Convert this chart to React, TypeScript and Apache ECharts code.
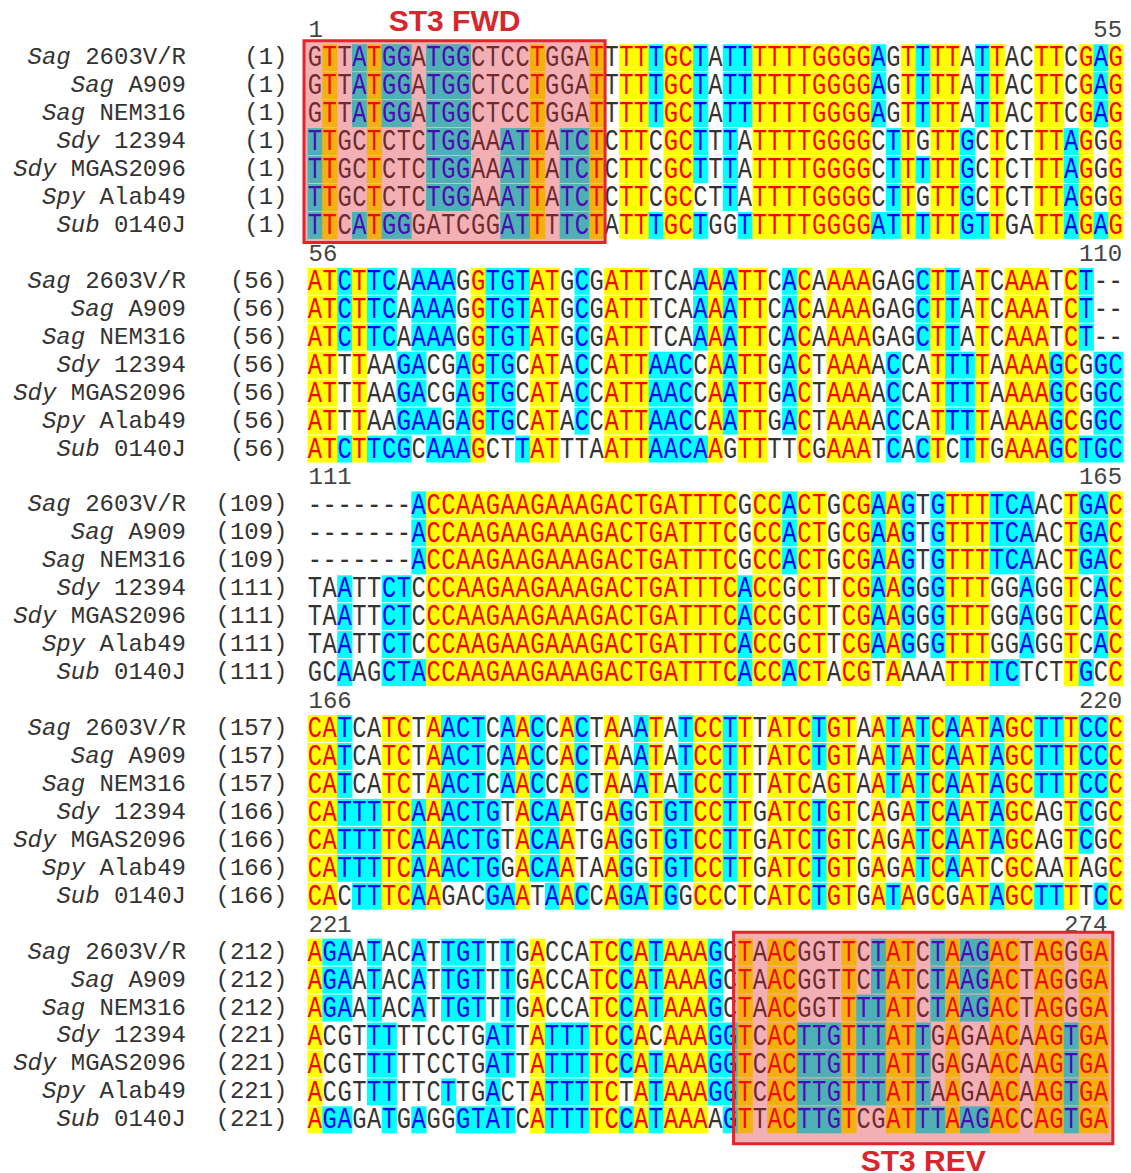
import React, { useEffect, useRef } from 'react';
import * as echarts from 'echarts';

// ---- data ----
const GENUS = ['Sag', 'Sag', 'Sag', 'Sdy', 'Sdy', 'Spy', 'Sub'];
const STRAIN = ['2603V/R', 'A909', 'NEM316', '12394', 'MGAS2096', 'Alab49', '0140J'];

const BLOCK_FIRST = [1, 56, 111, 166, 221];
const BLOCK_LAST = [55, 110, 165, 220, 274];

const ROW_START = [
  [1, 1, 1, 1, 1, 1, 1],
  [56, 56, 56, 56, 56, 56, 56],
  [109, 109, 109, 111, 111, 111, 111],
  [157, 157, 157, 166, 166, 166, 166],
  [212, 212, 212, 221, 221, 221, 221],
];

const BLOCK1 = [
  'GTTATGGATGGCTCCTGGATTTTTGCTATTTTTTGGGGAGTTTTATTACTTCGAG',
  'GTTATGGATGGCTCCTGGATTTTTGCTATTTTTTGGGGAGTTTTATTACTTCGAG',
  'GTTATGGATGGCTCCTGGATTTTTGCTATTTTTTGGGGAGTTTTATTACTTCGAG',
  'TTGCTCTCTGGAAATTATCTCTTCGCTTTATTTTGGGGCTTGTTGCTCTTTAGGG',
  'TTGCTCTCTGGAAATTATCTCTTCGCTTTATTTTGGGGCTTTTTGCTCTTTAGGG',
  'TTGCTCTCTGGAAATTATCTCTTCGCCTTATTTTGGGGCTTGTTGCTCTTTAGGG',
  'TTCATGGGATCGGATTTTCTATTTGCTGGTTTTTGGGGATTTTTGTTGATTAGAG',
];
const BLOCK2 = [
  'ATCTTCAAAAGGTGTATGCGATTTCAAAATTCACAAAAGAGCTTATCAAATCT--',
  'ATCTTCAAAAGGTGTATGCGATTTCAAAATTCACAAAAGAGCTTATCAAATCT--',
  'ATCTTCAAAAGGTGTATGCGATTTCAAAATTCACAAAAGAGCTTATCAAATCT--',
  'ATTTAAGACGAGTGCATACCATTAACCAATTGACTAAAACCATTTTAAAAGCGGC',
  'ATTTAAGACGAGTGCATACCATTAACCAATTGACTAAAACCATTTTAAAAGCGGC',
  'ATTTAAGAAGAGTGCATACCATTAACCAATTGACTAAAACCATTTTAAAAGCGGC',
  'ATCTTCGCAAAGCTTATTTAATTAACAAGTTTTCGAAATCACTCTTGAAAGCTGC',
];
const BLOCK3 = [
  '-------ACCAAGAAGAAAGACTGATTTCGCCACTGCGAAGTGTTTTCAACTGAC',
  '-------ACCAAGAAGAAAGACTGATTTCGCCACTGCGAAGTGTTTTCAACTGAC',
  '-------ACCAAGAAGAAAGACTGATTTCGCCACTGCGAAGTGTTTTCAACTGAC',
  'TAATTCTCCCAAGAAGAAAGACTGATTTCACCGCTTCGAAGGGTTTGGAGGTCAC',
  'TAATTCTCCCAAGAAGAAAGACTGATTTCACCGCTTCGAAGGGTTTGGAGGTCAC',
  'TAATTCTCCCAAGAAGAAAGACTGATTTCACCGCTTCGAAGGGTTTGGAGGTCAC',
  'GCAAGCTACCAAGAAGAAAGACTGATTTCACCACTACGTAAAATTTTCTCTTGCC',
];
const BLOCK4 = [
  'CATCATCTAACTCAACCACTAAATATCCTTTATCTGTAATATCAATAGCTTTCCC',
  'CATCATCTAACTCAACCACTAAATATCCTTTATCTGTAATATCAATAGCTTTCCC',
  'CATCATCTAACTCAACCACTAAATATCCTTTATCAGTAATATCAATAGCTTTCCC',
  'CATTTTCAAACTGTACAATGAGGTGTCCTTGATCTGTCAGATCAATAGCAGTCGC',
  'CATTTTCAAACTGTACAATGAGGTGTCCTTGATCTGTCAGATCAATAGCAGTCGC',
  'CATTTTCAAACTGGACAATAAGGTGTCCTTGATCTGTGAGATCAATCGCAATAGC',
  'CACTTTCAAGACGAATAACCAGATGGCCCTCATCTGTGATAGCGATAGCTTTTCC',
];
const BLOCK5 = [
  'AGAATACATTGTTTGACCATCCATAAAGCTAACGGTTCTATCTAAGACTAGGGA',
  'AGAATACATTGTTTGACCATCCATAAAGCTAACGGTTCTATCTAAGACTAGGGA',
  'AGAATACATTGTTTGACCATCCATAAAGCTAACGGTTTTATCTAAGACTAGGGA',
  'ACGTTTTTCCTGATTATTTTCCACAAAGGTCACTTGTTTATTGAGAACAAGTGA',
  'ACGTTTTTCCTGATTATTTTCCATAAAGGTCACTTGTTTATTGAGAACAAGTGA',
  'ACGTTTTTCTTGACTATTTTCTATAAAGGTCACTTGTTTATTAAGAACAAGTGA',
  'AGAGATGAGGGTATCATTTTCCATAAAAGTTACTTGTCGATTTAAGACCAGTGA',
];
const BLOCKS = [BLOCK1, BLOCK2, BLOCK3, BLOCK4, BLOCK5];

// primer boxes: block, first column (0-based), column after last
const PRIMER_NAMES = ['ST3 FWD', 'ST3 REV'];
const PRIMER_BLOCK = [0, 4];
const PRIMER_FROM = [0, 29];
const PRIMER_TO = [20, 54];
const PRIMER_SIDE = ['top', 'bottom'];

// ---- layout / style ----
const ROWS_PER_BLOCK = 8;
const N_ROWS = BLOCKS.length * ROWS_PER_BLOCK;
const MAX_COLS = 55;
const BOX_PAD = [
  { l: 3.5, r: 1, t: 3, b: 3, label: 20 },
  { l: 4, r: 4.5, t: 6, b: 10, label: 17 },
];
const MONO = 'Liberation Mono';
const BG = { Y: '#ffff00', C: '#00ffff', W: null };
const FG = { Y: '#ff0000', C: '#0000ff', W: '#333333' };

type Cell = { col: number; row: number; ch: string; cls: 'Y' | 'C' | 'W' };
const CELLS: Cell[] = [];
BLOCKS.forEach((rows, b) => {
  const len = rows[0].length;
  for (let col = 0; col < len; col++) {
    const counts: Record<string, number> = {};
    rows.forEach((s) => {
      counts[s[col]] = (counts[s[col]] || 0) + 1;
    });
    rows.forEach((s, r) => {
      const ch = s[col];
      let cls: 'Y' | 'C' | 'W' = 'W';
      if (ch !== '-') {
        if (counts[ch] === rows.length) cls = 'Y';
        else if (counts[ch] >= 4) cls = 'C';
      }
      CELLS.push({ col, row: b * ROWS_PER_BLOCK + 1 + r, ch, cls });
    });
  }
});

type Head = { col: number; row: number; text: string; align: 'left' | 'right' };
const HEADS: Head[] = [];
BLOCKS.forEach((rows, b) => {
  HEADS.push({ col: 0, row: b * ROWS_PER_BLOCK, text: String(BLOCK_FIRST[b]), align: 'left' });
  HEADS.push({ col: rows[0].length, row: b * ROWS_PER_BLOCK, text: String(BLOCK_LAST[b]), align: 'right' });
});

const ROW_KEYS = Array.from({ length: N_ROWS }, (_, i) => String(i));

export default function App() {
  const ref = useRef<HTMLDivElement>(null);
  useEffect(() => {
    if (!ref.current) return;
    const chart = echarts.init(ref.current, null, { renderer: 'svg' });
    const gridLeft = 307.5;
    const colW = 14.83;
    const rowH = 27.95;
    const option: any = {
      animation: false,
      backgroundColor: '#ffffff',
      grid: { left: gridLeft, top: 15.8, width: colW * MAX_COLS, height: rowH * N_ROWS, containLabel: false },
      xAxis: { type: 'value', min: 0, max: MAX_COLS, show: false },
      yAxis: [
        {
          type: 'category',
          inverse: true,
          data: ROW_KEYS,
          position: 'left',
          axisLine: { show: false },
          axisTick: { show: false },
          splitLine: { show: false },
          axisLabel: {
            interval: 0,
            margin: 20,
            fontFamily: MONO,
            fontSize: 24,
            color: '#333333',
            formatter: (_v: string, idx: number) => {
              const b = Math.floor(idx / ROWS_PER_BLOCK);
              const r = idx % ROWS_PER_BLOCK;
              if (r === 0) return '';
              return '(' + ROW_START[b][r - 1] + ')';
            },
          },
        },
        {
          type: 'category',
          inverse: true,
          data: ROW_KEYS,
          position: 'left',
          offset: 0,
          axisLine: { show: false },
          axisTick: { show: false },
          splitLine: { show: false },
          axisLabel: {
            interval: 0,
            margin: 121.5,
            fontFamily: MONO,
            fontSize: 24,
            color: '#333333',
            formatter: (_v: string, idx: number) => {
              const r = idx % ROWS_PER_BLOCK;
              if (r === 0) return '';
              return '{i|' + GENUS[r - 1] + '} {n|' + STRAIN[r - 1] + '}';
            },
            rich: {
              i: { fontFamily: MONO, fontSize: 24, fontStyle: 'italic', color: '#333333' },
              n: { fontFamily: MONO, fontSize: 24, color: '#333333' },
            },
          },
        },
      ],
      series: [
        {
          type: 'custom',
          name: 'alignment',
          clip: false,
          z: 2,
          yAxisIndex: 0,
          data: CELLS.map((c) => [c.col, c.row]),
          encode: { x: 0, y: 1 },
          renderItem: (params: any, api: any) => {
            const c = CELLS[params.dataIndex];
            const p = api.coord([c.col, c.row]);
            const sz = api.size([1, 1]);
            const w = sz[0];
            const h = sz[1];
            const children: any[] = [];
            const bg = (BG as any)[c.cls];
            if (bg) {
              children.push({
                type: 'rect',
                shape: { x: p[0], y: p[1] - h / 2 + 0.5, width: w + 0.4, height: h - 1 },
                style: { fill: bg },
              });
            }
            children.push({
              type: 'text',
              x: p[0] + w / 2,
              y: p[1] + 1,
              scaleX: 0.82,
              style: {
                text: c.ch,
                x: 0,
                y: 0,
                align: 'center',
                verticalAlign: 'middle',
                fill: (FG as any)[c.cls],
                fontFamily: MONO,
                fontSize: 29,
              },
            });
            return { type: 'group', children };
          },
        },
        {
          type: 'custom',
          name: 'positions',
          clip: false,
          z: 2,
          yAxisIndex: 0,
          data: HEADS.map((h) => [h.col, h.row]),
          encode: { x: 0, y: 1 },
          renderItem: (params: any, api: any) => {
            const hd = HEADS[params.dataIndex];
            const p = api.coord([hd.col, hd.row]);
            return {
              type: 'text',
              x: hd.align === 'left' ? p[0] + 1 : p[0] - 1,
              y: p[1] + 1,
              style: {
                text: hd.text,
                x: 0,
                y: 0,
                align: hd.align,
                verticalAlign: 'middle',
                fill: '#444444',
                fontFamily: MONO,
                fontSize: 24,
              },
            };
          },
        },
        {
          type: 'custom',
          name: 'primers',
          clip: false,
          z: 5,
          yAxisIndex: 0,
          data: PRIMER_NAMES.map((_n, i) => [PRIMER_FROM[i], PRIMER_BLOCK[i] * ROWS_PER_BLOCK + 1]),
          encode: { x: 0, y: 1 },
          renderItem: (params: any, api: any) => {
            const i = params.dataIndex;
            const pad = BOX_PAD[i];
            const firstRow = PRIMER_BLOCK[i] * ROWS_PER_BLOCK + 1;
            const lastRow = firstRow + 6;
            const h = api.size([1, 1])[1];
            const a = api.coord([PRIMER_FROM[i], firstRow]);
            const bPt = api.coord([PRIMER_TO[i], lastRow]);
            const x0 = a[0] - pad.l;
            const x1 = bPt[0] + pad.r;
            const y0 = a[1] - h / 2 - pad.t;
            const y1 = bPt[1] + h / 2 + pad.b;
            const ly = PRIMER_SIDE[i] === 'top' ? y0 - pad.label : y1 + pad.label;
            return {
              type: 'group',
              children: [
                {
                  type: 'rect',
                  shape: { x: x0, y: y0, width: x1 - x0, height: y1 - y0 },
                  style: { fill: 'rgba(220,30,40,0.35)', stroke: '#e3242b', lineWidth: 3 },
                },
                {
                  type: 'text',
                  x: (x0 + x1) / 2,
                  y: ly,
                  style: {
                    text: PRIMER_NAMES[i],
                    x: 0,
                    y: 0,
                    align: 'center',
                    verticalAlign: 'middle',
                    fill: '#d7262d',
                    fontFamily: 'Liberation Sans',
                    fontWeight: 'bold',
                    fontSize: 30,
                  },
                },
              ],
            };
          },
        },
      ],
    };
    chart.setOption(option);
    return () => chart.dispose();
  }, []);
  return (
    <div
      ref={ref}
      style={{ position: 'absolute', left: 0, top: 0, width: 1131, height: 1173, background: '#ffffff' }}
    />
  );
}
